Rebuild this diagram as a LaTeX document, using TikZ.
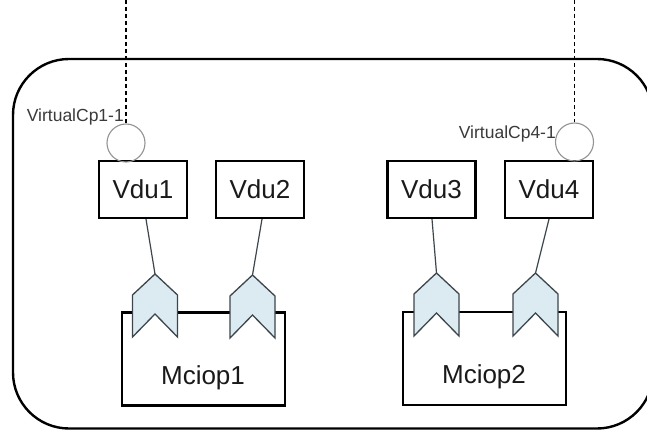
\documentclass[tikz,border=0pt]{standalone}
\usepackage{fontspec}
\setmainfont{Liberation Sans}
\usetikzlibrary{calc}
\definecolor{portfill}{HTML}{DCEAF2}
\definecolor{portline}{HTML}{3C464C}
\definecolor{txt}{HTML}{1A1A1A}
\definecolor{lbltxt}{HTML}{3A3A3A}
\newcommand\drawport[3]{%
  \coordinate (#1) at (#2,#3);
  \draw[portshape] (#1) -- ++(22.5,21) -- ++(0,42) -- ++(-22.5,-23) -- ++(-22.5,23) -- ++(0,-42) -- cycle;}
\begin{document}
\begin{tikzpicture}[x=1pt,y=-1pt,
  outer/.style={draw=black, line width=2.4pt, rounded corners=56pt},
  vdu/.style={draw=black, line width=2.2pt, minimum width=88pt, minimum height=57pt, inner sep=0pt, text=txt, font=\fontsize{26}{28}\selectfont},
  mbox/.style={draw=black, line width=2.2pt, minimum width=163pt, minimum height=93pt, inner sep=0pt},
  mtext/.style={text=txt, font=\fontsize{26}{28}\selectfont, inner sep=0pt},
  portshape/.style={draw=portline, fill=portfill, line width=1.3pt, line join=miter},
  conn/.style={draw=portline, line width=1.2pt},
  cp/.style={circle, draw=gray!85, line width=1.1pt, minimum size=38pt, inner sep=0pt},
  vlink/.style={draw=black, line width=1.3pt, dash pattern=on 4pt off 3pt},
  lbl/.style={text=lbltxt, font=\fontsize{17.5}{19}\selectfont, inner sep=0pt}]
\useasboundingbox (0,0) rectangle (647,430);
\clip (0,0) rectangle (647,430);
\fill[white] (0,0) rectangle (647,430);
% outer frame
\draw[outer] (13,59) rectangle (653,428.5);
% Mciop boxes
\node[mbox] (mciop1) at (203.5,359) {};
\node[mbox] (mciop2) at (484.5,358.5) {};
\node[mtext] (mt1) at (203,378) {Mciop1};
\node[mtext] (mt2) at (484,377) {Mciop2};
% ports
\drawport{p1}{155}{274}
\drawport{p2}{252.5}{275}
\drawport{p3}{436.5}{273}
\drawport{p4}{535.5}{273}
% Vdus
\node[vdu] (vdu1) at (143,189.5) {Vdu1};
\node[vdu] (vdu2) at (260,189.5) {Vdu2};
\node[vdu] (vdu3) at (431.5,189.5) {Vdu3};
\node[vdu] (vdu4) at (549,189.5) {Vdu4};
% connectors
\draw[conn] ($(vdu1.south)+(3,0)$) -- (p1);
\draw[conn] ($(vdu2.south)+(2,0)$) -- (p2);
\draw[conn] ($(vdu3.south)+(0.5,0)$) -- (p3);
\draw[conn] (vdu4.south) -- (p4);
% virtual CPs
\node[cp] (cp1) at (126,143) {};
\node[cp] (cp4) at (574.5,142) {};
\coordinate (t1) at (126,0);
\coordinate (t4) at (574.5,0);
\draw[vlink] (t1) -- (cp1.north);
\draw[vlink] (t4) -- (cp4.north);
\node[lbl, anchor=east] (l1) at (124,117) {VirtualCp1-1};
\node[lbl, anchor=east] (l4) at (556,134) {VirtualCp4-1};
\end{tikzpicture}
\end{document}
